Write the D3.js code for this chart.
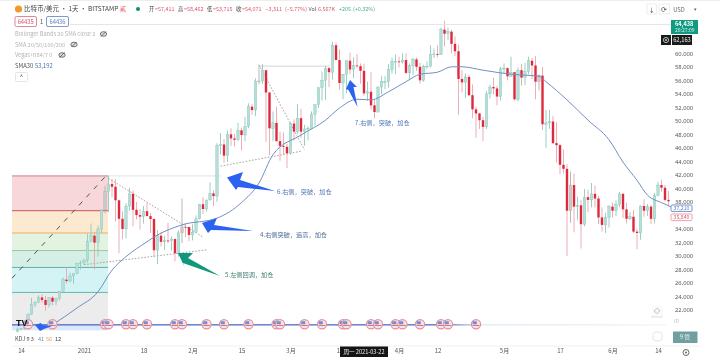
<!DOCTYPE html>
<html>
<head>
<meta charset="utf-8">
<script src="https://cdn.jsdelivr.net/npm/d3@7"></script>
<style>
html, body { margin: 0; padding: 0; background: #fff; }
svg { display: block; filter: blur(0.45px); }
text { font-family: "Noto Sans CJK SC", "Noto Sans", sans-serif; }
</style>
</head>
<body>
<div id="chart"></div>
<script>
// daily candles in thousands of USD, first one is 2020-12-13
var firstDay = Date.UTC(2020, 11, 13);
var opens = [18.8,19.17,19.28,19.44,21.35,22.8,23.13,23.86,23.48,22.75,23.82,23.24,23.73,24.7,26.49,26.28,27.04,27.36,28.88,
  28.98,29.38,32.13,33,31.97,33.99,36.82,39.51,40.65,40.24,38.24,35.5,33.99,37.39,39.19,36.83,36.05,35.82,36.63,35.9,35.47,30.85,33,32.09,32.28,32.26,32.5,30.4,33.42,34.3,34.29,
  33.11,33.5,35.5,37.66,36.95,38.29,39.26,38.86,46.4,46.5,44.85,48,47.4,47.2,48.6,47.9,49.15,52.1,51.6,55.9,55.9,57.5,54.2,48.9,49.7,47,46.3,46.15,
  45.2,49.6,48.4,50.4,48.4,48.8,48.9,50.95,52.4,54.9,56,57.8,57.2,61.2,59,55.6,56.9,58.9,57.6,58.2,58.1,57.41,54.07,54.3,52.3,51.3,55,55.8,55.8,57.6,58.8,
  58.8,58.7,59,57.1,58.2,59.1,58,56,58.1,58.1,59.8,59.9,59.8,63.5,62.9,63.2,61.4,60.3,56.2,55.7,56.5,53.8,51.7,51.1,50.1,49.1,54,55,54.8,53.6,
  57.7,57.8,56.6,57.2,53.2,57.5,56.4,57.3,58.9,58.2,55.8,56.7,49.5,49.7,49.9,46.7,46.4,43.5,42.9,36.7,40.5,37.3,37.5,34.7,38.7,38.3,39.2,38.5,35.7,34.6,35.7,
  37.3,36.7,37.6,39.2,36.9,35.5,35.8,33.6,33.4,37.4,36.7,37.3,35.5,39,40.5,40.1,38.3];
var highs = [19.4,19.35,19.55,21.5,23.8,23.3,24.2,24.3,24.1,23.85,24.1,23.8,24.8,26.8,28.4,27.5,27.4,29,29.3,
  29.6,33.3,34.8,33.6,34.5,36.9,40.4,41.9,41.4,41.4,38.3,36.6,37.8,40.1,39.7,38,36.9,37.4,37.9,36.4,35.6,33.8,33.5,33,34.9,32.9,32.6,33.8,38.5,34.9,34.3,
  34.7,36,37.7,38.7,38.3,40.9,39.7,46.7,48.2,47.3,48.6,48.9,48.1,49.7,49,50.6,52.6,52.5,56.3,58.3,58.4,57.5,54.2,51.4,52.1,48.4,48.3,46.6,
  49.8,50.2,52.5,51.8,49.4,49.2,51.4,52.4,54.9,57.3,58.1,58,61.7,61.6,60.6,56.9,58.9,60.1,59.4,59.9,58.5,58.46,55.8,57.2,53.2,55.1,56.6,56.6,58.4,59.4,59.8,
  59.5,60,60,58.5,59.3,59.4,58.6,58.3,58.8,61.2,60.7,61.2,63.8,64.8,63.8,63.5,62.5,61.3,57.5,57,56.8,55.4,52.1,51.2,50.6,54.4,55.4,56.4,55.2,58,
  58.5,57.9,59.5,57.2,57.9,58.4,58.6,59.5,59.3,59.6,56.9,58,51.6,51.6,50.7,49.8,46.6,45.8,43.6,42.5,42.2,38.8,38.3,39.9,39.8,40.8,40.4,38.9,37.2,36.4,37.5,
  37.9,38.2,39.5,39.3,37.9,36.5,36.8,34,37.5,38.4,37.7,37.5,39.3,41,41.3,40.5,39.6];
var lows = [18.7,19,19.05,19.3,21.25,22.4,23,23.1,21.9,22.4,22.7,22.7,23.4,24.5,25.9,26.1,25.9,27.3,28,
  28.7,29,32,28,29.9,33.4,36.3,36.5,38.7,35.1,30.4,32.5,32.6,36.7,34.4,35.4,33.9,34.8,35.9,33.4,29.8,28.8,31.4,30.9,31.9,30.8,29.2,29.9,31.9,32.8,32.2,
  32.3,33.4,35.4,36.2,36.6,38.2,37.4,38,45,43.8,43.9,46.3,46.2,47,45.6,47,48.9,50.9,50.7,55.4,55.5,46.9,44.9,47,46.9,44.1,45,43,
  45,47.1,48.1,47.5,46.3,47.1,48.9,49.3,51.9,53,53.1,55,56.1,59,54.6,53.2,54.1,56.9,56.3,57.8,55.5,53.72,53,51.7,50.4,51.3,53.9,54.7,54.9,57,56.9,
  57.9,58.5,56.9,56,56.8,57.4,55.5,55.8,57.7,57.9,59.3,59.4,59.8,61,62,60,59.6,50.9,54.2,53.4,53.7,50.4,47.5,48.8,47,48.8,53.3,53.9,52.3,53,
  57,56,56.5,53,52.9,55.2,55.3,56.9,56.2,53.2,54.5,48.6,46,48.8,46.6,43.8,42.1,42.2,30,34.9,33.5,35.3,31.1,34.4,36.5,37.2,37.2,34.7,33.6,33.4,34.2,
  35.7,35.9,37.2,35.6,34.8,35.3,33.4,31,32.4,35.8,35.9,34.7,34.8,38.8,39.5,38.1,37.4];
var closes = [19.17,19.28,19.44,21.35,22.8,23.13,23.86,23.48,22.75,23.82,23.24,23.73,24.7,26.49,26.28,27.04,27.36,28.88,28.98,
  29.38,32.13,33,31.97,33.99,36.82,39.51,40.65,40.24,38.24,35.5,33.99,37.39,39.19,36.83,36.05,35.82,36.63,35.9,35.47,30.85,33,32.09,32.28,32.26,32.5,30.4,33.42,34.3,34.29,33.11,
  33.5,35.5,37.66,36.95,38.29,39.26,38.86,46.4,46.5,44.85,48,47.4,47.2,48.6,47.9,49.15,52.1,51.6,55.9,55.9,57.5,54.2,48.9,49.7,47,46.3,46.15,45.2,
  49.6,48.4,50.4,48.4,48.8,48.9,50.95,52.4,54.9,56,57.8,57.2,61.2,59,55.6,56.9,58.9,57.6,58.2,58.1,57.41,54.07,54.3,52.3,51.3,55,55.8,55.8,57.6,58.8,58.8,
  58.7,59,57.1,58.2,59.1,58,56,58.1,58.1,59.8,59.9,59.8,63.5,62.9,63.2,61.4,60.3,56.2,55.7,56.5,53.8,51.7,51.1,50.1,49.1,54,55,54.8,53.6,57.7,
  57.8,56.6,57.2,53.2,57.5,56.4,57.3,58.9,58.2,55.8,56.7,49.5,49.7,49.9,46.7,46.4,43.5,42.9,36.7,40.5,37.3,37.5,34.7,38.7,38.3,39.2,38.5,35.7,34.6,35.7,37.3,
  36.7,37.6,39.2,36.9,35.5,35.8,33.6,33.4,37.4,36.7,37.3,35.5,39,40.5,40.1,38.3,38.1];
// candles the original paints grey
var greyDays = ["2021-01-07","2021-01-29","2021-02-20","2021-05-11","2021-05-20"];

// SMA30
var smaDays = ["2020-12-23","2020-12-30","2021-01-05","2021-01-09","2021-01-13","2021-01-19","2021-01-21","2021-01-29","2021-02-08","2021-02-15","2021-02-20","2021-02-24","2021-03-04","2021-03-11","2021-03-15","2021-03-20","2021-03-24","2021-03-29","2021-04-03","2021-04-07","2021-04-12","2021-04-16","2021-04-19","2021-04-25","2021-05-03","2021-05-11","2021-05-13","2021-05-19","2021-05-25","2021-05-31","2021-06-04","2021-06-08","2021-06-11","2021-06-15","2021-06-18"];
var smaValues = [19.8,22.3,24.7,27.9,29.9,32.1,32.8,34.6,35.6,37.9,40.8,45,47.9,50.1,51.9,53.2,53.1,54.3,55.8,56.9,57.2,58,58,57.5,56.9,56.6,55.8,53.1,50.1,47.2,43.9,41.2,39,37.9,37.2];

// fib levels
var fibLevels = [41.85,36.7,33.4,30.8,28.3,24.6,19.8];
var fibFills = ["#f8d7da","#fde9cf","#e3f3e2","#d6efe6","#d3f3f4","#ececec"];
var fibLines = ["#c9808c","#c8525d","#efae5e","#9cc89a","#5fb5a0","#5dbdb4","#3f5fc0"];

// economic event flags on the fib base line
var eventDays = ["2020-12-16","2020-12-23","2021-01-07","2021-01-08","2021-01-13","2021-01-15","2021-01-19","2021-01-27","2021-01-29","2021-02-05","2021-02-10","2021-02-17","2021-02-25","2021-02-26","2021-03-05","2021-03-10","2021-03-16","2021-03-17","2021-03-24","2021-03-26","2021-03-31","2021-04-02","2021-04-07","2021-04-13","2021-04-15","2021-04-23"];

var priceTicks = [60,58,56,54,52,50,48,46,44,42,40,38,34,32,30,28,26,24,22];
var timeTicks = ["2020-12-14","2021-01-01","2021-01-18","2021-02-01","2021-02-15","2021-03-01","2021-03-15","2021-04-01","2021-04-12","2021-05-01","2021-05-17","2021-06-01","2021-06-14"];
var timeLabels = ["14","2021","18","2月","15","3月","15","4月","12","5月","17","6月","14"];

// trend lines drawn on the chart: [start day, start price, end day, end price]
var dottedLines = [
  ["2021-01-08",41.5,"2021-02-04",32.8],
  ["2021-01-01",28.7,"2021-02-05",30.9],
  ["2021-02-09",43.3,"2021-03-04",45.5],
  ["2021-02-20",58.3,"2021-03-05",45.7]
];

var width = 720, height = 359;
var svg = d3.select("#chart").append("svg").attr("width", width).attr("height", height);

var parse = d3.utcParse("%Y-%m-%d");
var x = d3.scaleUtc().domain([parse("2020-12-14"), parse("2021-06-14")]).range([21, 658]);
var y = d3.scaleLinear().domain([22, 60]).range([310, 53.3]);
var dayOf = function(i) { return d3.utcDay.offset(new Date(firstDay), i); };
var dayKey = d3.utcFormat("%Y-%m-%d");
var isGrey = function(i) { return greyDays.indexOf(dayKey(dayOf(i))) >= 0; };

var fmt = d3.format(",");

// fib bands
svg.selectAll(".fibBand").data(fibFills).enter().append("rect")
  .attr("x", 12).attr("width", 96)
  .attr("y", function(d, i) { return y(fibLevels[i]); })
  .attr("height", function(d, i) { return y(fibLevels[i + 1]) - y(fibLevels[i]); })
  .style("fill", function(d) { return d; });
svg.append("rect").attr("x", 12).attr("width", 96).attr("y", y(19.8)).attr("height", 5.5).style("fill", "#dbe7fb");
svg.selectAll(".fibLine").data(fibLevels.slice(0, 6)).enter().append("line")
  .attr("x1", 12).attr("x2", 108)
  .attr("y1", function(d) { return y(d); }).attr("y2", function(d) { return y(d); })
  .style("stroke", function(d, i) { return fibLines[i]; })
  .style("stroke-width", 1);

// base line with the event flags, fades out to the right
var fade = svg.append("defs").append("linearGradient").attr("id", "fade");
fade.append("stop").attr("offset", "0.66").attr("stop-color", "#3f5fc0");
fade.append("stop").attr("offset", "0.72").attr("stop-color", "#dbe7f3");
fade.append("stop").attr("offset", "1").attr("stop-color", "#eef4f4");
svg.append("rect").attr("x", 12).attr("y", y(19.8) - 0.6).attr("width", 654).attr("height", 1.2).style("fill", "url(#fade)");

// horizontal guide lines
svg.append("line").attr("x1", x(parse("2021-01-08"))).attr("x2", x(parse("2021-02-09")))
  .attr("y1", y(41.85)).attr("y2", y(41.85)).style("stroke", "#dcdcdc").style("stroke-width", 0.8);
svg.append("line").attr("x1", x(parse("2021-02-20"))).attr("x2", x(parse("2021-03-12")))
  .attr("y1", y(58.1)).attr("y2", y(58.1)).style("stroke", "#d4d4d4").style("stroke-width", 1);

// dashed trend on the fib box
svg.append("line").attr("x1", 12).attr("y1", y(26.7)).attr("x2", x(parse("2021-01-07"))).attr("y2", y(41.7))
  .style("stroke", "#444").style("stroke-width", 0.9).style("stroke-dasharray", "5 6");

svg.selectAll(".dotted").data(dottedLines).enter().append("line")
  .attr("x1", function(d) { return x(parse(d[0])); })
  .attr("y1", function(d) { return y(d[1]); })
  .attr("x2", function(d) { return x(parse(d[2])); })
  .attr("y2", function(d) { return y(d[3]); })
  .style("stroke", "#8e8e8e").style("stroke-width", 0.8).style("stroke-dasharray", "1.6 1.6");

// wicks then bodies
var candles = svg.append("g").attr("class", "candles");
candles.selectAll(".wick").data(closes).enter().append("line")
  .attr("x1", function(d, i) { return x(dayOf(i)); })
  .attr("x2", function(d, i) { return x(dayOf(i)); })
  .attr("y1", function(d, i) { return y(highs[i]); })
  .attr("y2", function(d, i) { return y(lows[i]); })
  .style("stroke", function(d, i) { return isGrey(i) ? "#b0b0b0" : d >= opens[i] ? "#8fc9bd" : "#e9a4ae"; })
  .style("stroke-width", 0.9);
candles.selectAll(".body").data(closes).enter().append("rect")
  .attr("x", function(d, i) { return x(dayOf(i)) - 1.2; })
  .attr("width", 2.4)
  .attr("y", function(d, i) { return y(Math.max(d, opens[i])); })
  .attr("height", function(d, i) { return Math.max(0.8, Math.abs(y(d) - y(opens[i]))); })
  .style("fill", function(d, i) { return isGrey(i) ? "#c9c9c9" : d >= opens[i] ? "#b4ded7" : "#e0283c"; })
  .style("stroke", function(d, i) { return isGrey(i) ? "#a8a8a8" : d >= opens[i] ? "#86c3b7" : "none"; })
  .style("stroke-width", 0.4);

// SMA30
var smaLine = d3.line()
  .x(function(d, i) { return x(parse(d)); })
  .y(function(d, i) { return y(smaValues[i]); })
  .curve(d3.curveMonotoneX);
svg.append("path").datum(smaDays).attr("d", smaLine)
  .style("fill", "none").style("stroke", "#6f8fc0").style("stroke-width", 1);

// event flags
var flags = svg.selectAll(".flag").data(eventDays).enter().append("g")
  .attr("transform", function(d) { return "translate(" + x(parse(d)) + "," + (y(19.8) - 0.6) + ")"; });
flags.append("circle").attr("r", 4.6).style("fill", "#f7e3e6").style("stroke", "#e48f9c").style("stroke-width", 1.1);
flags.append("rect").attr("x", -3.4).attr("y", -3).attr("width", 4.2).attr("height", 3).style("fill", "#6f90d0");
flags.append("rect").attr("x", -3.4).attr("y", 0.7).attr("width", 6.8).attr("height", 1).style("fill", "#d9707f");

// tv logo
svg.append("text").attr("x", 16).attr("y", 325.5).style("font-size", "9px").style("font-weight", 900)
  .style("font-family", "Liberation Sans").style("fill", "#111").text("TV");

// annotation arrows
var arrows = [
  {c: "#2c62f0", p: [[350,80],[357,87],[353.5,87],[357.5,107],[348.5,90],[346,89]]},
  {c: "#2c62f0", p: [[227,177.5],[243,172],[240,180],[275,191],[238,187],[236,190]]},
  {c: "#2c62f0", p: [[202,223],[217,218],[214,225],[253,231],[211,230],[208,233]]},
  {c: "#10977c", p: [[178,253],[193,253],[188,258],[220,276],[183,263],[185,268]]},
  {c: "#2c62f0", p: [[35,325],[41,323],[42,325],[52,326],[44,329],[40,331]]}
];
svg.selectAll(".arrow").data(arrows).enter().append("polygon")
  .attr("points", function(d) { return d.p.join(" "); })
  .style("fill", function(d) { return d.c; });

// annotation texts
var notes = [
  {t: "7.右侧，突破，加仓", x: 355, y: 123, c: "#4d76b8"},
  {t: "6.右侧，突破，加仓", x: 277, y: 191.5, c: "#4d76b8"},
  {t: "4.右侧突破，追高，加仓", x: 260, y: 234.5, c: "#4a6a96"},
  {t: "5.左侧回调，加仓", x: 225, y: 275, c: "#3f7d70"}
];
svg.selectAll(".note").data(notes).enter().append("text")
  .attr("x", function(d) { return d.x; }).attr("y", function(d) { return d.y; })
  .attr("dy", "0.35em").style("font-size", "6.2px")
  .style("fill", function(d) { return d.c; })
  .text(function(d) { return d.t; });

// price axis on the right, no line
var yAxis = d3.axisRight(y).tickValues(priceTicks).tickSize(0).tickPadding(0)
  .tickFormat(function(d) { return fmt(d * 1000); });
var yg = svg.append("g").attr("transform", "translate(675,0)").call(yAxis);
yg.select(".domain").remove();
yg.selectAll("text").style("font-size", "5.8px").style("fill", "#555").style("font-family", "Noto Sans");

// time axis
var xAxis = d3.axisBottom(x).tickValues(timeTicks.map(parse)).tickSize(0).tickPadding(0)
  .tickFormat(function(d, i) { return timeLabels[i]; });
var xg = svg.append("g").attr("transform", "translate(0,348.5)").call(xAxis);
xg.select(".domain").remove();
xg.selectAll("text").style("font-size", "6px").style("fill", "#555");

// top and bottom separators
svg.append("line").attr("x1", 70).attr("x2", 698).attr("y1", 24.5).attr("y2", 24.5).style("stroke", "#e6e6e6");
svg.append("line").attr("x1", 12).attr("x2", 700).attr("y1", 346).attr("y2", 346).style("stroke", "#f0f0f0");
svg.append("line").attr("x1", 0).attr("x2", 720).attr("y1", 0.5).attr("y2", 0.5).style("stroke", "#eee");

// title row
svg.append("circle").attr("cx", 18.5).attr("cy", 9).attr("r", 3.6).style("fill", "#f09a2a");
function label(tx, ty, s, c, fs, anchor) {
  return svg.append("text").attr("x", tx).attr("y", ty).attr("dy", "0.35em")
    .style("font-size", (fs || 6) + "px").style("fill", c)
    .style("text-anchor", anchor || "start").text(s);
}
label(24, 9, "比特币/美元 · 1天 · BITSTAMP", "#444", 6.5);
label(120, 9, "貳", "#e0404f", 6);
svg.append("circle").attr("cx", 138).attr("cy", 9).attr("r", 2).style("fill", "#0b8f76");

var ohlc = [
  {t: "开", x: 149, c: "#444"}, {t: "=57,411", x: 155, c: "#d9566a"},
  {t: "高", x: 178, c: "#444"}, {t: "=58,462", x: 184, c: "#d9566a"},
  {t: "低", x: 207, c: "#444"}, {t: "=53,715", x: 213, c: "#d9566a"},
  {t: "收", x: 236, c: "#444"}, {t: "=54,071", x: 242, c: "#d9566a"},
  {t: "−3,311", x: 265.5, c: "#d9566a"}, {t: "(−5.77%)", x: 285, c: "#d9566a"},
  {t: "Vol", x: 308.5, c: "#555"}, {t: "6.567K", x: 318, c: "#d9566a"},
  {t: "+205", x: 339, c: "#4aa896"}, {t: "(+0.32%)", x: 353, c: "#4aa896"}
];
ohlc.forEach(function(d) { label(d.x, 9.5, d.t, d.c, 5.4); });

// study buttons
svg.append("rect").attr("x", 15).attr("y", 16.5).attr("width", 21.5).attr("height", 10).attr("rx", 1.5)
  .style("fill", "#fff").style("stroke", "#d98a97");
svg.append("rect").attr("x", 46.5).attr("y", 16.5).attr("width", 22).attr("height", 10).attr("rx", 1.5)
  .style("fill", "#fff").style("stroke", "#7f9bc9");
label(25.7, 21.8, "64435", "#d9566a", 5.8, "middle");
label(41.5, 21.8, "1", "#555", 5.8, "middle");
label(57.5, 21.8, "64436", "#5e83bd", 5.8, "middle");

// study legend
label(15, 34, "Bollinger Bands 20 SMA close 2", "#b5b5b5", 5.6);
label(15, 45, "SMA 20/50/100/200", "#b5b5b5", 5.6);
label(15, 55, "Vegas+n84/7 0", "#b5b5b5", 5.6);
label(15, 66, "SMA30", "#555", 5.8);
label(35, 66, "53,192", "#4b74b5", 5.8);
var eyes = [[103.5, 34], [74, 44.5], [62, 55]];
svg.selectAll(".eye").data(eyes).enter().append("ellipse")
  .attr("cx", function(d) { return d[0]; }).attr("cy", function(d) { return d[1]; })
  .attr("rx", 3.2).attr("ry", 2.3).style("fill", "#ddd").style("stroke", "#555").style("stroke-width", 0.8);
svg.selectAll(".eyeSlash").data(eyes).enter().append("line")
  .attr("x1", function(d) { return d[0] - 2.5; }).attr("x2", function(d) { return d[0] + 2.5; })
  .attr("y1", function(d) { return d[1] + 2.5; }).attr("y2", function(d) { return d[1] - 2.5; })
  .style("stroke", "#555").style("stroke-width", 0.8);
svg.append("rect").attr("x", 15.5).attr("y", 72.5).attr("width", 12).attr("height", 9).attr("rx", 1)
  .style("fill", "#fff").style("stroke", "#e5e5e5");
label(21.5, 77, "^", "#444", 6, "middle");

// top right buttons
svg.append("rect").attr("x", 647).attr("y", 4).attr("width", 9.5).attr("height", 10).style("fill", "#fff").style("stroke", "#eee");
svg.append("rect").attr("x", 659).attr("y", 4).attr("width", 10.5).attr("height", 10).style("fill", "#fff").style("stroke", "#eee");
label(651.7, 9.5, "↓", "#444", 6, "middle");
label(664.2, 9.5, "⟳", "#444", 7, "middle");
label(679, 9.5, "USD", "#666", 5.8, "middle");
label(695, 9.5, "▾", "#666", 5, "middle");

// price labels on the axis
svg.append("rect").attr("x", 671).attr("y", 20).attr("width", 27).attr("height", 14).style("fill", "#0f9a82");
label(675, 24, "64,438", "#fff", 5.6).style("font-weight", 700);
label(675, 30, "20:27:09", "#d6f0ea", 5);
svg.append("rect").attr("x", 661).attr("y", 35).attr("width", 10).attr("height", 10).style("fill", "#1b1b1b");
svg.append("circle").attr("cx", 666).attr("cy", 40).attr("r", 2.6).style("fill", "none").style("stroke", "#ddd").style("stroke-width", 0.8);
svg.append("circle").attr("cx", 666).attr("cy", 40).attr("r", 0.9).style("fill", "#ddd");
svg.append("rect").attr("x", 672).attr("y", 35).attr("width", 20).attr("height", 10).style("fill", "#1b1b1b");
label(682, 40, "62,163", "#eee", 5.8, "middle");
svg.append("rect").attr("x", 671).attr("y", 205).attr("width", 21).attr("height", 6.4).attr("rx", 1)
  .style("fill", "#fff").style("stroke", "#6f95d0");
label(681.5, 208.2, "37,210", "#5e83bd", 5.2, "middle");
svg.append("rect").attr("x", 671).attr("y", 214).attr("width", 21).attr("height", 6.6).attr("rx", 1)
  .style("fill", "#fff").style("stroke", "#e8a3ae");
label(681.5, 217.3, "35,840", "#d9566a", 5.2, "middle");

// bottom legend
label(15, 338.7, "KDJ 9 3", "#555", 5.6);
label(38, 338.7, "41", "#6d93cc", 5.6);
label(46, 338.7, "56", "#efa24e", 5.6);
label(55, 338.7, "12", "#444", 5.6);

// crosshair date tag
svg.append("rect").attr("x", 340).attr("y", 346.5).attr("width", 48).attr("height", 10.5).style("fill", "#141414");
label(364, 352, "周一 2021-03-22", "#eee", 5.6, "middle");

// corner widgets
svg.append("rect").attr("x", 652).attr("y", 306).attr("width", 11).attr("height", 10).style("fill", "#fafafa");
svg.append("line").attr("x1", 651).attr("x2", 663).attr("y1", 317).attr("y2", 317).style("stroke", "#ddd");
label(657, 311, "◇", "#333", 6, "middle");
label(674, 321.5, "ID", "#bbb", 5);
svg.append("rect").attr("x", 653).attr("y", 332).attr("width", 9).attr("height", 9).attr("rx", 3)
  .style("fill", "#fff").style("stroke", "#e5e5e5");
svg.append("rect").attr("x", 673).attr("y", 331.5).attr("width", 24.5).attr("height", 11.5).style("fill", "#6f9fa0");
label(685, 337, "9 管", "#eee", 6, "middle");
svg.append("circle").attr("cx", 686).attr("cy", 352.5).attr("r", 3).style("fill", "none").style("stroke", "#666");
svg.append("circle").attr("cx", 686).attr("cy", 352.5).attr("r", 1).style("fill", "#666");
</script>
</body>
</html>
